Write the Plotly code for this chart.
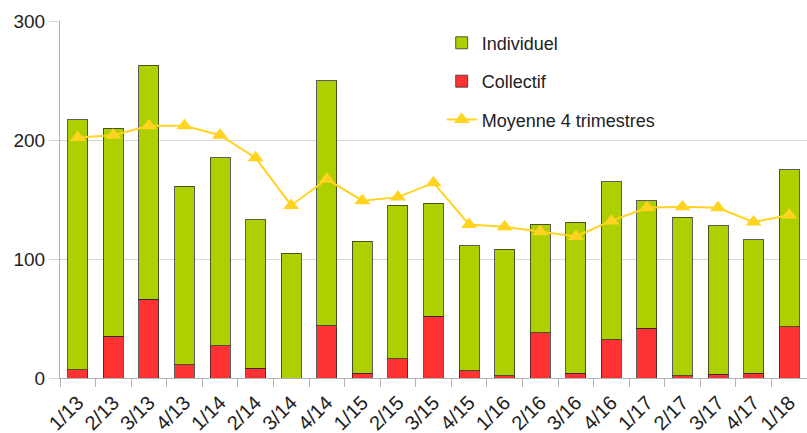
import plotly.graph_objects as go

categories = ["1/13", "2/13", "3/13", "4/13", "1/14", "2/14", "3/14", "4/14",
              "1/15", "2/15", "3/15", "4/15", "1/16", "2/16", "3/16", "4/16",
              "1/17", "2/17", "3/17", "4/17", "1/18"]
totals = [217, 210, 263, 161, 185, 133, 105, 250, 115, 145, 147, 111, 108, 129,
          131, 165, 149, 135, 128, 116, 175]
collectif = [7, 35, 66, 11, 27, 8, 0, 44, 4, 16, 52, 6, 2, 38, 4, 32, 42, 2, 3, 4, 43]
individuel = [t - c for t, c in zip(totals, collectif)]
moyenne = [202, 204, 212, 212, 204, 185, 145, 167, 149, 152, 164, 129, 127, 123,
           119, 132, 143, 144, 143, 131, 137]

font = "Liberation Sans, Arial, sans-serif"
outline = dict(color="rgba(40,40,40,0.75)", width=1)

fig = go.Figure()
fig.add_trace(go.Bar(x=categories, y=collectif, name="Collectif",
                     marker=dict(color="#ff3333", line=outline),
                     legendrank=2, legendgroup="b"))
fig.add_trace(go.Bar(x=categories, y=individuel, name="Individuel",
                     marker=dict(color="#aecf00", line=outline),
                     legendrank=1, legendgroup="a"))
fig.add_trace(go.Scatter(x=categories, y=moyenne, name="Moyenne 4 trimestres",
                         mode="lines+markers",
                         line=dict(color="#ffd320", width=2),
                         marker=dict(symbol="triangle-up", size=14, color="#ffd320"),
                         legendrank=3, legendgroup="c"))

fig.update_layout(
    width=807, height=433,
    margin=dict(l=60, r=0, t=21, b=55),
    barmode="stack", bargap=0.44,
    plot_bgcolor="white", paper_bgcolor="white",
    font=dict(family=font, size=18, color="#222222"),
    showlegend=True,
    legend=dict(x=0.511, y=0.99, xanchor="left", yanchor="top",
                bgcolor="rgba(255,255,255,0)", traceorder="grouped",
                tracegroupgap=12, font=dict(size=18), itemwidth=30),
    xaxis=dict(type="category", showline=True, linecolor="#b3b3b3", linewidth=1,
               ticks="outside", tickson="boundaries", ticklen=8, tickcolor="#b3b3b3",
               tickangle=-45, showgrid=False, automargin=False,
               tickfont=dict(size=20), ticklabelstandoff=4,
               range=[-0.5, len(categories) - 0.5]),
    yaxis=dict(range=[0, 300], tickvals=[0, 100, 200, 300], showline=True,
               linecolor="#b3b3b3", linewidth=1, ticks="outside", ticklen=10,
               tickcolor="#d9d9d9", gridcolor="#d9d9d9", zeroline=False,
               tickfont=dict(size=19), automargin=False),
)

fig.write_html("out.html", config={"displayModeBar": False},
               post_script="document.body.style.margin='0';")
